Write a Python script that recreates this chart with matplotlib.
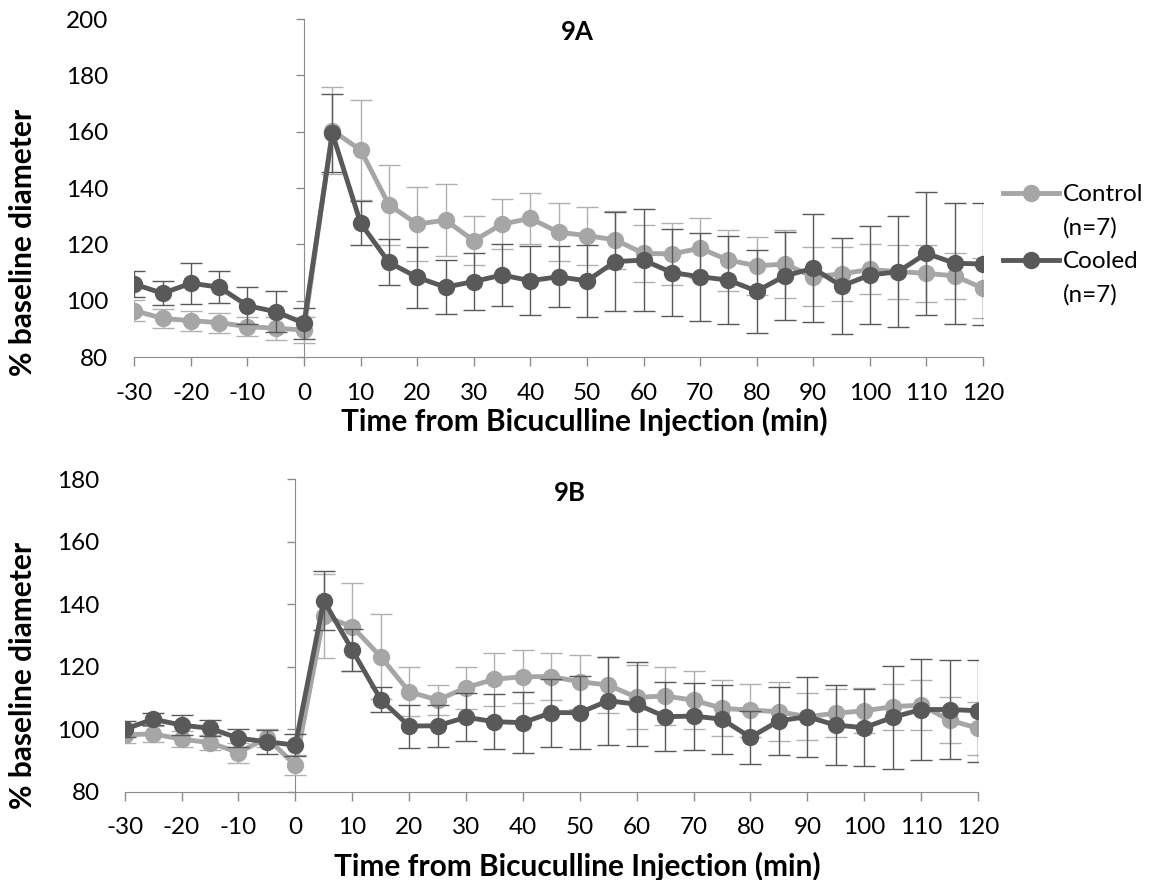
import matplotlib
matplotlib.use("Agg")
import matplotlib.pyplot as plt
from matplotlib.lines import Line2D

plt.rcParams["font.family"] = ["Lato", "DejaVu Sans"]
plt.rcParams["axes.unicode_minus"] = False

# sampling times (min from injection)
times = [-30, -25, -20, -15, -10, -5, 0, 5, 10, 15, 20, 25, 30, 35, 40, 45,
         50, 55, 60, 65, 70, 75, 80, 85, 90, 95, 100, 105, 110, 115, 120]

# 9A
a_control = [96.5, 93.7, 92.9, 92.2, 90.8, 90.2, 89.6, 160.4, 153.5, 134.0,
             127.2, 128.6, 121.3, 127.2, 129.2, 124.3, 123.1, 121.6, 116.8,
             116.6, 118.6, 114.4, 112.4, 113.0, 108.5, 109.5, 111.1, 110.3,
             109.7, 108.8, 104.4]
a_control_err = [3.8, 3.5, 3.5, 3.5, 3.5, 4.0, 4.5, 15.6, 17.7, 14.3, 13.0,
                 12.7, 8.8, 8.8, 9.1, 10.3, 10.3, 10.4, 10.0, 11.1, 10.6, 10.8,
                 10.3, 12.2, 10.4, 9.6, 8.9, 9.6, 10.1, 8.3, 10.7]
a_cooled = [105.9, 102.6, 106.2, 104.8, 98.2, 96.1, 92.0, 159.4, 127.5, 113.6,
            108.3, 104.8, 106.8, 109.1, 107.1, 108.5, 107.0, 113.9, 114.4,
            110.0, 108.5, 107.3, 103.4, 108.8, 111.5, 105.2, 109.1, 110.3,
            116.8, 113.3, 113.0]
a_cooled_err = [4.6, 4.3, 7.3, 5.7, 6.5, 7.3, 5.5, 13.8, 7.8, 8.2, 10.8, 9.5,
                10.1, 11.1, 12.2, 10.9, 12.8, 17.7, 18.2, 15.6, 15.7, 15.7,
                14.7, 15.7, 19.2, 17.0, 17.3, 19.6, 21.9, 21.5, 21.6]

# 9B
b_control = [98.2, 98.5, 96.8, 95.7, 92.5, 97.2, 88.5, 136.2, 132.8, 123.2,
             112.0, 109.3, 113.3, 116.0, 116.8, 116.8, 115.2, 114.1, 110.2,
             110.6, 109.3, 106.7, 106.1, 105.6, 104.0, 105.1, 105.9, 107.2,
             107.7, 102.9, 100.3]
b_control_err = [2.5, 2.5, 2.5, 2.5, 3.2, 3.0, 3.2, 13.5, 14.1, 13.6, 7.8, 4.8,
                 6.7, 8.5, 8.5, 7.5, 8.6, 9.0, 10.2, 9.3, 9.2, 9.0, 8.5, 9.5,
                 7.6, 7.6, 7.2, 7.4, 8.1, 7.4, 8.4]
b_cooled = [100.0, 103.2, 101.3, 100.3, 97.1, 96.0, 94.9, 141.1, 125.3, 109.5,
            101.0, 101.1, 103.8, 102.4, 102.1, 105.3, 105.3, 109.1, 108.0,
            104.0, 104.2, 103.2, 97.4, 102.7, 104.0, 101.3, 100.5, 103.8,
            106.3, 106.3, 105.9]
b_cooled_err = [2.5, 1.9, 3.2, 2.5, 2.9, 3.9, 3.5, 9.5, 6.6, 4.1, 6.9, 6.7,
                7.7, 8.8, 9.8, 10.9, 11.6, 14.1, 13.4, 11.1, 10.7, 11.0, 8.5,
                10.9, 12.8, 12.8, 12.3, 16.5, 16.2, 15.8, 16.3]

x_ticks = [-30, -20, -10, 0, 10, 20, 30, 40, 50, 60, 70, 80, 90, 100, 110, 120]

LIGHT = "#a6a6a6"
DARK = "#595959"
AXIS = "#8c8c8c"
LW = 3.5
MS = 11.5


def panel(ax, control, control_err, cooled, cooled_err, ymax, title, title_y):
    ax.errorbar(times, control, yerr=control_err, fmt="none", ecolor="#b0b0b0",
                elinewidth=1.0, capsize=8, capthick=1.0, zorder=2)
    ax.plot(times, control, color=LIGHT, lw=LW, marker="o", ms=MS, zorder=3)
    ax.errorbar(times, cooled, yerr=cooled_err, fmt="none", ecolor=DARK,
                elinewidth=1.0, capsize=8, capthick=1.0, zorder=4)
    ax.plot(times, cooled, color=DARK, lw=LW, marker="o", ms=MS, zorder=5)

    ax.set_xlim(-30, 120)
    ax.set_ylim(80, ymax)
    ax.set_xticks(x_ticks)
    ax.set_yticks(range(80, ymax + 1, 20))

    for side in ["top", "right"]:
        ax.spines[side].set_visible(False)
    ax.spines["left"].set_position(("data", 0))
    ax.spines["left"].set_color(AXIS)
    ax.spines["bottom"].set_color(AXIS)
    ax.spines["left"].set_zorder(1)
    ax.tick_params(axis="x", direction="out", length=6.5, width=1.0,
                   color=AXIS, labelsize=17.5, pad=12)
    ax.tick_params(axis="y", direction="out", length=6, width=1.0,
                   color=AXIS, labelsize=17.5, pad=135)

    ax.text(0.522, title_y, title, transform=ax.transAxes,
            ha="center", va="center", fontsize=18.5, fontweight="bold")
    ax.set_xlabel("Time from Bicuculline Injection (min)", fontsize=21.5,
                  fontweight="bold")
    ax.set_ylabel("% baseline diameter", fontsize=21.5, fontweight="bold")
    ax.xaxis.label.set_va("center")
    ax.yaxis.label.set_va("center")


fig = plt.figure(figsize=(11.6, 8.8), dpi=100)
ax1 = fig.add_axes([0.1158, 0.5943, 0.7316, 0.3841])
ax2 = fig.add_axes([0.1075, 0.1003, 0.7356, 0.3553])

panel(ax1, a_control, a_control_err, a_cooled, a_cooled_err, 200, "9A", 0.962)
panel(ax2, b_control, b_control_err, b_cooled, b_cooled_err, 180, "9B", 0.954)

ax1.xaxis.set_label_coords(0.53, -0.192)
ax1.yaxis.set_label_coords(-0.131, 0.34)
ax2.xaxis.set_label_coords(0.53, -0.24)
ax2.yaxis.set_label_coords(-0.119, 0.373)

# two-line legend entries: the (n=7) rows get an empty handle
blank = Line2D([], [], linestyle="none")
ctrl_handle = Line2D([], [], color=LIGHT, lw=LW, marker="o", ms=MS)
cool_handle = Line2D([], [], color=DARK, lw=LW, marker="o", ms=MS)
leg = ax1.legend([ctrl_handle, blank, cool_handle, blank],
                 ["Control", "(n=7)", "Cooled", "(n=7)"],
                 loc="center left", bbox_to_anchor=(1.024, 0.331),
                 frameon=False, fontsize=17.5, borderpad=0, borderaxespad=0,
                 handlelength=2.3, handletextpad=0.15, labelspacing=0.5)

fig.savefig("out.png", dpi=100)
